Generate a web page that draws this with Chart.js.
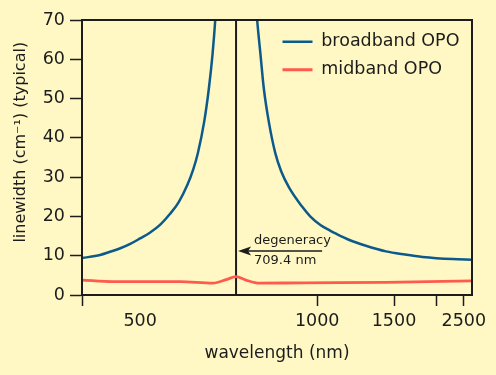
<!DOCTYPE html>
<html>
<head>
<meta charset="utf-8">
<title>OPO linewidth</title>
<script src="https://cdn.jsdelivr.net/npm/chart.js@4.4.1/dist/chart.umd.min.js"></script>
<style>
  html, body { margin: 0; padding: 0; background: #fff8c4; }
  canvas { display: block; }
</style>
</head>
<body>
<canvas id="chart" width="496" height="375"></canvas>
<script>
// Datos (longitud de onda en nm, anchura de línea en cm^-1)
const broadbandWl = [400, 431, 448, 466, 483, 500, 522, 544, 565, 584, 603, 616, 626, 640, 650, 658, 664, 667, 709.4,
                     779, 785, 797, 809, 827, 850, 871, 899, 946, 975, 1021, 1084, 1123, 1210, 1312, 1448, 1628, 1834, 2291, 2650];
const broadbandLw = [9.4, 10.2, 11.0, 11.9, 13.0, 14.4, 15.9, 17.9, 20.6, 23.6, 28.0, 32.0, 36.1, 44.2, 52.5, 61.2, 70, 76, null,
                     76, 70, 61.2, 52.5, 44.0, 36.1, 31.5, 27.4, 22.5, 20.0, 17.8, 16.4, 15.6, 14.0, 12.6, 11.1, 10.3, 9.7, 9.15, 9.0];

const midbandWl = [400, 453, 587, 659, 690, 709.4, 745, 792, 950, 1448, 2650];
const midbandLw = [3.8, 3.4, 3.4, 3.0, 4.0, 4.7, 3.8, 3.0, 3.1, 3.2, 3.6];

const degeneracy = 709.4;
const xTickValues = [400, 500, 1000, 1500, 2000, 2500];
const xTickLabels = ['', '500', '1000', '1500', '', '2500'];
const yMin = 0, yMax = 70, yStep = 10;

const BLUE = '#0c5a8b';
const RED = '#ff5a4e';
const INK = '#1c1c1c';
const FONT = 'DejaVu Sans';

// Eje de longitud de onda no lineal (calibrado en fracción del ancho del eje)
const axisWl = [400, 500, 709.4, 1000, 1500, 2000, 2500, 2650];
const axisFrac = [0, 0.149, 0.395, 0.603, 0.8, 0.91, 0.979, 1];

class WavelengthScale extends Chart.LinearScale {
    static id = 'wavelength';
    static defaults = {};

    fraction(v) {
        let i = 1;
        while (i < axisWl.length - 1 && v > axisWl[i]) i++;
        const t = (v - axisWl[i - 1]) / (axisWl[i] - axisWl[i - 1]);
        return axisFrac[i - 1] + t * (axisFrac[i] - axisFrac[i - 1]);
    }

    getPixelForValue(value) {
        if (value === null || value === undefined) return NaN;
        return this.left + this.fraction(value) * this.width;
    }

    getValueForPixel(pixel) {
        const f = (pixel - this.left) / this.width;
        let i = 1;
        while (i < axisFrac.length - 1 && f > axisFrac[i]) i++;
        const t = (f - axisFrac[i - 1]) / (axisFrac[i] - axisFrac[i - 1]);
        return axisWl[i - 1] + t * (axisWl[i] - axisWl[i - 1]);
    }
}
Chart.register(WavelengthScale);

const toPoints = (xs, ys) => xs.map((x, i) => ({ x: x, y: ys[i] }));

// Coloca la leyenda dentro del área del gráfico, arriba a la derecha
const legendSpot = {
    id: 'legendSpot',
    afterLayout(chart) {
        const lg = chart.legend;
        const a = chart.chartArea;
        lg.left = a.right - 200;
        lg.top = a.top + 2.5;
        lg.right = a.right;
        lg.bottom = a.bottom;
    }
};

// Marco, flecha y texto de degeneración
const annotate = {
    id: 'annotate',
    afterDatasetsDraw(chart) {
        const { ctx, chartArea: a, scales: { x, y } } = chart;
        ctx.save();
        ctx.strokeStyle = INK;
        ctx.lineWidth = 2;
        ctx.strokeRect(a.left, a.top, a.right - a.left, a.bottom - a.top);

        const tipX = x.getPixelForValue(degeneracy) + 2;
        const endX = x.getPixelForValue(1032);
        const ay = y.getPixelForValue(11.2);
        ctx.lineWidth = 1.5;
        ctx.beginPath();
        ctx.moveTo(tipX + 9, ay);
        ctx.lineTo(endX, ay);
        ctx.stroke();
        ctx.fillStyle = INK;
        ctx.beginPath();
        ctx.moveTo(tipX, ay);
        ctx.lineTo(tipX + 13, ay - 4.5);
        ctx.lineTo(tipX + 10, ay);
        ctx.lineTo(tipX + 13, ay + 4.5);
        ctx.closePath();
        ctx.fill();

        ctx.font = '13px "' + FONT + '"';
        ctx.textAlign = 'left';
        ctx.textBaseline = 'middle';
        ctx.fillText('degeneracy', tipX + 16, ay - 10);
        ctx.fillText('709.4 nm', tipX + 16, ay + 10);
        ctx.restore();
    }
};

const ctx = document.getElementById('chart').getContext('2d');
new Chart(ctx, {
    type: 'line',
    data: {
        datasets: [
            {
                label: 'broadband OPO',
                data: toPoints(broadbandWl, broadbandLw),
                borderColor: BLUE,
                backgroundColor: BLUE,
                borderWidth: 2.5,
                pointRadius: 0,
                pointBorderWidth: 2.5,
                pointBorderColor: BLUE,
                cubicInterpolationMode: 'monotone',
                spanGaps: false
            },
            {
                label: 'midband OPO',
                data: toPoints(midbandWl, midbandLw),
                borderColor: RED,
                backgroundColor: RED,
                borderWidth: 2.8,
                pointRadius: 0,
                pointBorderWidth: 2.8,
                pointBorderColor: RED,
                cubicInterpolationMode: 'monotone'
            },
            {
                label: 'degeneracy',
                data: [{ x: degeneracy, y: yMin }, { x: degeneracy, y: yMax }],
                borderColor: INK,
                borderWidth: 2,
                pointRadius: 0
            }
        ]
    },
    options: {
        responsive: false,
        animation: false,
        events: [],
        layout: { padding: { top: 20, right: 24, bottom: 0, left: 0 } },
        scales: {
            x: {
                type: 'wavelength',
                min: 400,
                max: 2650,
                afterBuildTicks: axis => { axis.ticks = xTickValues.map(v => ({ value: v })); },
                afterFit: axis => { axis.height = 80; },
                ticks: {
                    autoSkip: false,
                    maxRotation: 0,
                    padding: 5,
                    color: INK,
                    font: { family: FONT, size: 17.5 },
                    callback: (value, index) => xTickLabels[index]
                },
                grid: {
                    drawOnChartArea: false,
                    tickLength: 11,
                    tickWidth: 1.5,
                    tickColor: c => (c.tick && c.tick.value === 500) ? 'rgba(0,0,0,0)' : INK
                },
                border: { display: true, color: INK, width: 2 },
                title: {
                    display: true,
                    text: 'wavelength (nm)',
                    color: INK,
                    font: { family: FONT, size: 17 },
                    padding: { top: 0, bottom: 11 }
                }
            },
            y: {
                min: yMin,
                max: yMax,
                afterFit: axis => { axis.width = 82; },
                ticks: {
                    stepSize: yStep,
                    padding: 5,
                    color: INK,
                    font: { family: FONT, size: 17.5 }
                },
                grid: {
                    drawOnChartArea: false,
                    tickLength: 12,
                    tickWidth: 1.5,
                    tickColor: INK
                },
                border: { display: true, color: INK, width: 2 },
                title: {
                    display: true,
                    text: '      linewidth (cm\u207B\u00B9) (typical)',
                    color: INK,
                    font: { family: FONT, size: 16 },
                    padding: { top: 11, bottom: 0 }
                }
            }
        },
        plugins: {
            legend: {
                position: 'chartArea',
                align: 'start',
                labels: {
                    usePointStyle: true,
                    pointStyle: 'line',
                    pointStyleWidth: 30,
                    padding: 10.5,
                    color: INK,
                    font: { family: FONT, size: 17.5 },
                    filter: item => item.datasetIndex < 2
                }
            },
            tooltip: { enabled: false }
        }
    },
    plugins: [legendSpot, annotate]
});
</script>
</body>
</html>
